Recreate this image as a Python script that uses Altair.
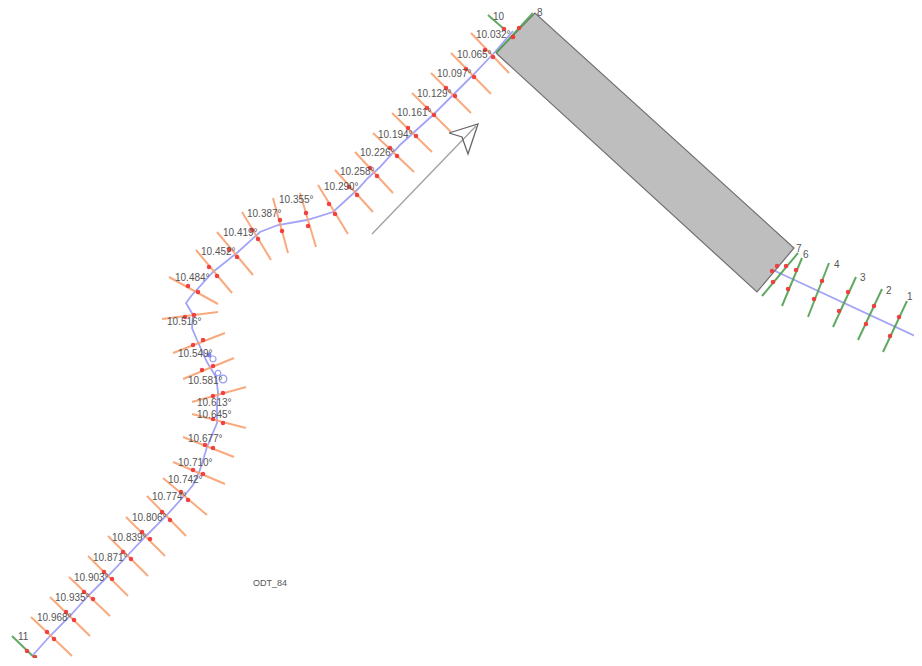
import altair as alt
import pandas as pd

# Orange cross-sections (image pixel readings): label, ends and the two red marks
st_lab = ["10.968°","10.935°","10.903°","10.871°","10.839°","10.806°","10.774°","10.742°","10.710°","10.677°",
          "10.645°","10.613°","10.581°","10.549°","10.516°","10.484°","10.452°","10.419°","10.387°","10.355°",
          "","10.290°","10.258°","10.226°","10.194°","10.161°","10.129°","10.097°","10.065°","10.032°"]
st_lx = [37,55,74,93,112,132,152,168,178,188,197,197,188,178,167,175,201,223,247,279,0,324,340,360,378,397,417,437,457,476]
st_ly = [618,598,578,558,538,518,497,480,463,439,415,403,381,354,322,278,252,233,214,200,0,187,172,153,135,113,94,74,55,35]
s_x1 = [31,50,69,88,108,126,147,163,173,183,192,192,183,173,162,169,196,217,242,273,300,318,335,355,373,392,412,431,451,471]
s_y1 = [617,597,577,556,536,517,496,478,462,437,414,402,379,353,319,277,250,232,212,198,193,185,170,152,133,113,93,73,53,33]
s_x2 = [72,90,110,128,148,165,186,207,225,234,246,246,234,225,218,218,232,253,271,288,316,348,373,393,414,432,451,471,491,509]
s_y2 = [656,636,616,596,576,556,536,515,484,457,428,387,358,333,312,304,293,275,260,253,247,234,212,193,172,152,132,113,94,73]
d1_x = [47,66,84,104,123,142,162,181,193,205,213,213,202,193,185,188,209,229,252,280,306,329,349,370,390,408,427,446,466,485]
d1_y = [632,612,592,572,552,532,512,492,470,445,419,396,370,345,317,286,267,250,230,220,213,204,187,168,148,128,108,88,69,50]
d2_x = [54,74,93,112,131,150,170,188,203,213,223,223,213,203,194,198,217,237,258,282,308,335,357,377,397,416,434,455,474,493]
d2_y = [639,620,599,579,559,539,520,500,474,448,423,393,366,340,315,292,276,257,239,231,226,214,195,176,156,136,115,96,77,57]

# Green cross-sections
g_lab = ["1","2","3","4","6","7","8","10","11"]
g_lx = [907,886,860,834,803,796,537,493,18]
g_ly = [297,291,278,265,255,249,13,17,637]
g_x1 = [907,882,856,829,802,798,533,488,12]
g_y1 = [301,289,277,263,258,253,13,15,636]
g_x2 = [883,858,833,808,782,762,496,504,42]
g_y2 = [352,340,327,317,306,296,53,29,665]
gd1_x = [899,874,848,822,796,786,519,504,27]
gd1_y = [317,306,292,281,270,266,28,29,651]
gd2_x = [890,866,839,814,788,773,513,513,35]
gd2_y = [336,324,311,299,289,282,37,37,657]
extra_x = [777,772]
extra_y = [266,271]

# Centre line
c1_x = [33,50,70,88,108,127,146,166,184,193,200,207,217,217,218,216,207,197,192,193,186,192,213,238,260,278,307,333,357,368,380,400,433,455,473,495,513]
c1_y = [655,636,616,596,576,556,536,516,496,485,470,447,423,405,392,377,362,340,328,315,303,295,272,252,232,225,220,212,190,178,167,145,115,93,75,52,31]
c2_x = [773,917]
c2_y = [270,337]

# Grey block
box_x = [496,535,757,794]
box_top = [53,13,214,248]
box_bot = [53,89,292,248]
edge_x = [496,535,794,757,496]
edge_y = [53,13,248,292,53]

# Direction arrow
shaft_x = [372,476]
shaft_y = [234,126]
head_x = [449,478,468,462,449]
head_y = [133,124,154,137,133]

# Survey symbols
ring_x = [213,223,218]
ring_y = [359,379,373]
ring_s = [36,60,30]
core_x = [209]
core_y = [355]

note = ["ODT_84"]
note_x = [253]
note_y = [583]

X = alt.Scale(domain=[8, 914], nice=False, zero=False)
Y = alt.Scale(domain=[8, 658], nice=False, zero=False, reverse=True)
ex = lambda f="x": alt.X(f + ":Q", scale=X, axis=None)
ey = lambda f="y": alt.Y(f + ":Q", scale=Y, axis=None)

def segs(x1, y1, x2, y2):
    return pd.DataFrame({"x": x1, "y": y1, "x2": x2, "y2": y2})

def rule(df, color, w):
    return alt.Chart(df).mark_rule(color=color, strokeWidth=w, opacity=0.9).encode(
        x=ex(), y=ey(), x2="x2:Q", y2="y2:Q")

def path(xs, ys, color, w, op=1.0):
    df = pd.DataFrame({"x": xs, "y": ys, "o": range(len(xs))})
    return alt.Chart(df).mark_line(color=color, strokeWidth=w, opacity=op).encode(
        x=ex(), y=ey(), order="o:Q")

def dots(xs, ys):
    return alt.Chart(pd.DataFrame({"x": xs, "y": ys})).mark_point(
        filled=True, color="#f03a3a", size=20, opacity=0.95).encode(x=ex(), y=ey())

def labels(t, xs, ys, size=10):
    df = pd.DataFrame({"t": t, "x": xs, "y": ys})
    df = df[df.t != ""]
    return alt.Chart(df).mark_text(align="left", baseline="middle", font="Liberation Sans",
                                   fontSize=size, color="#555555").encode(x=ex(), y=ey(), text="t:N")

box = alt.Chart(pd.DataFrame({"x": box_x, "y": box_top, "y2": box_bot})).mark_area(
    color="#bebebe", opacity=1).encode(x=ex(), y=ey(), y2="y2:Q")
rings = alt.Chart(pd.DataFrame({"x": ring_x, "y": ring_y, "s": ring_s})).mark_point(
    filled=False, color="#6f6ff5", strokeWidth=1.2).encode(
    x=ex(), y=ey(), size=alt.Size("s:Q", scale=None, legend=None))
core = alt.Chart(pd.DataFrame({"x": core_x, "y": core_y})).mark_point(
    filled=True, color="#4a4ae0", size=24).encode(x=ex(), y=ey())

chart = alt.layer(
    path(c1_x, c1_y, "#a3a3f7", 1.8),
    path(c2_x, c2_y, "#a3a3f7", 1.8),
    box,
    path(edge_x, edge_y, "#707070", 1.2),
    rule(segs(s_x1, s_y1, s_x2, s_y2), "#f8a070", 2),
    rule(segs(g_x1, g_y1, g_x2, g_y2), "#4fa050", 2),
    dots(d1_x + d2_x + gd1_x + gd2_x + extra_x, d1_y + d2_y + gd1_y + gd2_y + extra_y),
    rings, core,
    path(shaft_x, shaft_y, "#a0a0a0", 1.3),
    path(head_x, head_y, "#666666", 1.3),
    labels(st_lab, st_lx, st_ly),
    labels(g_lab, g_lx, g_ly),
    labels(note, note_x, note_y, 9),
).properties(width=906, height=650, padding=0, background="white",
             autosize=alt.AutoSizeParams(type="none")
).configure_view(stroke=None)

chart.save("out.html", embed_options={"renderer": "svg", "actions": False})
